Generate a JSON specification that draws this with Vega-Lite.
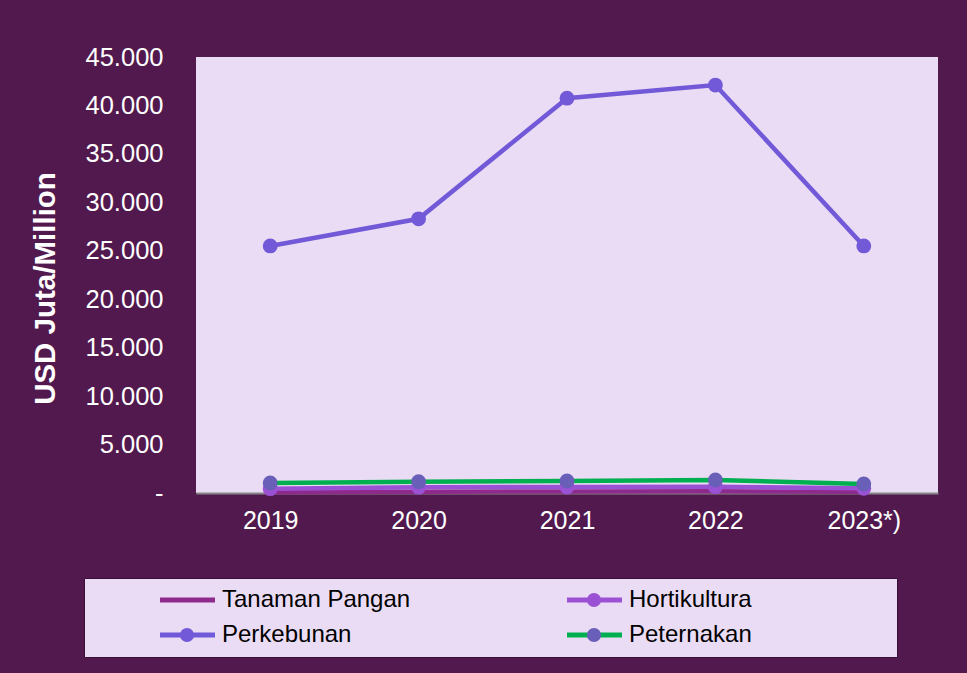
{
  "$schema": "https://vega.github.io/schema/vega-lite/v6.json",
  "width": 742,
  "height": 436,
  "autosize": {"type": "none"},
  "padding": {"left": 196, "top": 57, "right": 29, "bottom": 180},
  "background": "#52194e",
  "config": {
    "view": {"fill": "#ebdcf5", "stroke": null},
    "font": "Liberation Sans"
  },
  "data": {
    "values": [
      {"year": "2019", "series": "Tanaman Pangan", "value": 80},
      {"year": "2020", "series": "Tanaman Pangan", "value": 120},
      {"year": "2021", "series": "Tanaman Pangan", "value": 160},
      {"year": "2022", "series": "Tanaman Pangan", "value": 180},
      {"year": "2023*)", "series": "Tanaman Pangan", "value": 120},
      {"year": "2019", "series": "Hortikultura", "value": 450},
      {"year": "2020", "series": "Hortikultura", "value": 600},
      {"year": "2021", "series": "Hortikultura", "value": 620},
      {"year": "2022", "series": "Hortikultura", "value": 650},
      {"year": "2023*)", "series": "Hortikultura", "value": 480},
      {"year": "2019", "series": "Perkebunan", "value": 25500},
      {"year": "2020", "series": "Perkebunan", "value": 28300},
      {"year": "2021", "series": "Perkebunan", "value": 40750},
      {"year": "2022", "series": "Perkebunan", "value": 42100},
      {"year": "2023*)", "series": "Perkebunan", "value": 25500},
      {"year": "2019", "series": "Peternakan", "value": 1030},
      {"year": "2020", "series": "Peternakan", "value": 1170},
      {"year": "2021", "series": "Peternakan", "value": 1240},
      {"year": "2022", "series": "Peternakan", "value": 1340},
      {"year": "2023*)", "series": "Peternakan", "value": 930}
    ]
  },
  "encoding": {
    "x": {
      "field": "year", "type": "ordinal",
      "scale": {"type": "point", "padding": 0.5},
      "axis": {
        "title": null, "labelAngle": 0, "labelFontSize": 25, "labelColor": "white",
        "labelPadding": 15, "ticks": false, "tickSize": 0, "grid": false,
        "domainColor": "#868686", "domainWidth": 2
      }
    },
    "y": {
      "field": "value", "type": "quantitative",
      "scale": {"domain": [0, 45000], "nice": false},
      "axis": {
        "title": "USD Juta/Million", "titleColor": "white", "titleFontSize": 29.5,
        "titleFontWeight": "bold", "titleX": -136, "titleY": 231,
        "values": [0, 5000, 10000, 15000, 20000, 25000, 30000, 35000, 40000, 45000],
        "labelExpr": "datum.value == 0 ? '-' : replace(format(datum.value, ','), ',', '.')",
        "labelFontSize": 25.5, "labelColor": "white", "labelPadding": 33,
        "ticks": false, "tickSize": 0, "domain": false, "grid": false
      }
    }
  },
  "layer": [
    {
      "mark": {"type": "line", "strokeWidth": 4.5},
      "encoding": {
        "color": {
          "field": "series", "type": "nominal",
          "sort": ["Tanaman Pangan", "Hortikultura", "Perkebunan", "Peternakan"],
          "scale": {"range": ["#8e2a8c", "#9b51d4", "#7259d8", "#00b050"]},
          "legend": {
            "title": "\u00a0", "titleOrient": "right", "titlePadding": 135, "titleFontSize": 10,
            "orient": "none", "direction": "horizontal", "legendX": -112, "legendY": 521,
            "fillColor": "#ebdcf5", "strokeColor": "#3b0f37", "padding": 10,
            "columns": 2, "gridAlign": "all", "columnPadding": 90, "rowPadding": 11,
            "symbolType": "M-5,0H5", "symbolSize": 121, "symbolStrokeWidth": 5,
            "symbolOffset": 81.5, "labelOffset": 22.5, "labelLimit": 400,
            "labelFontSize": 24, "labelColor": "black", "labelFont": "Liberation Sans",
            "zindex": 1
          }
        }
      }
    },
    {
      "mark": {"type": "point", "filled": true, "size": 220, "opacity": 1},
      "encoding": {
        "fill": {
          "field": "series", "type": "nominal",
          "scale": {
            "domain": ["Tanaman Pangan", "Hortikultura", "Perkebunan", "Peternakan"],
            "range": ["transparent", "#9b51d4", "#7259d8", "#6a5fb8"]
          },
          "legend": {
            "title": null, "orient": "none", "direction": "horizontal", "legendX": -112, "legendY": 521,
            "padding": 10,
            "columns": 2, "gridAlign": "all", "columnPadding": 90, "rowPadding": 11,
            "symbolType": "circle", "symbolSize": 200, "symbolStrokeWidth": 0,
            "symbolOffset": 81, "labelOffset": 23, "labelLimit": 400, "symbolOpacity": 1,
            "labelFontSize": 24, "labelColor": "transparent", "labelFont": "Liberation Sans",
            "zindex": 2
          }
        }
      }
    }
  ]
}
